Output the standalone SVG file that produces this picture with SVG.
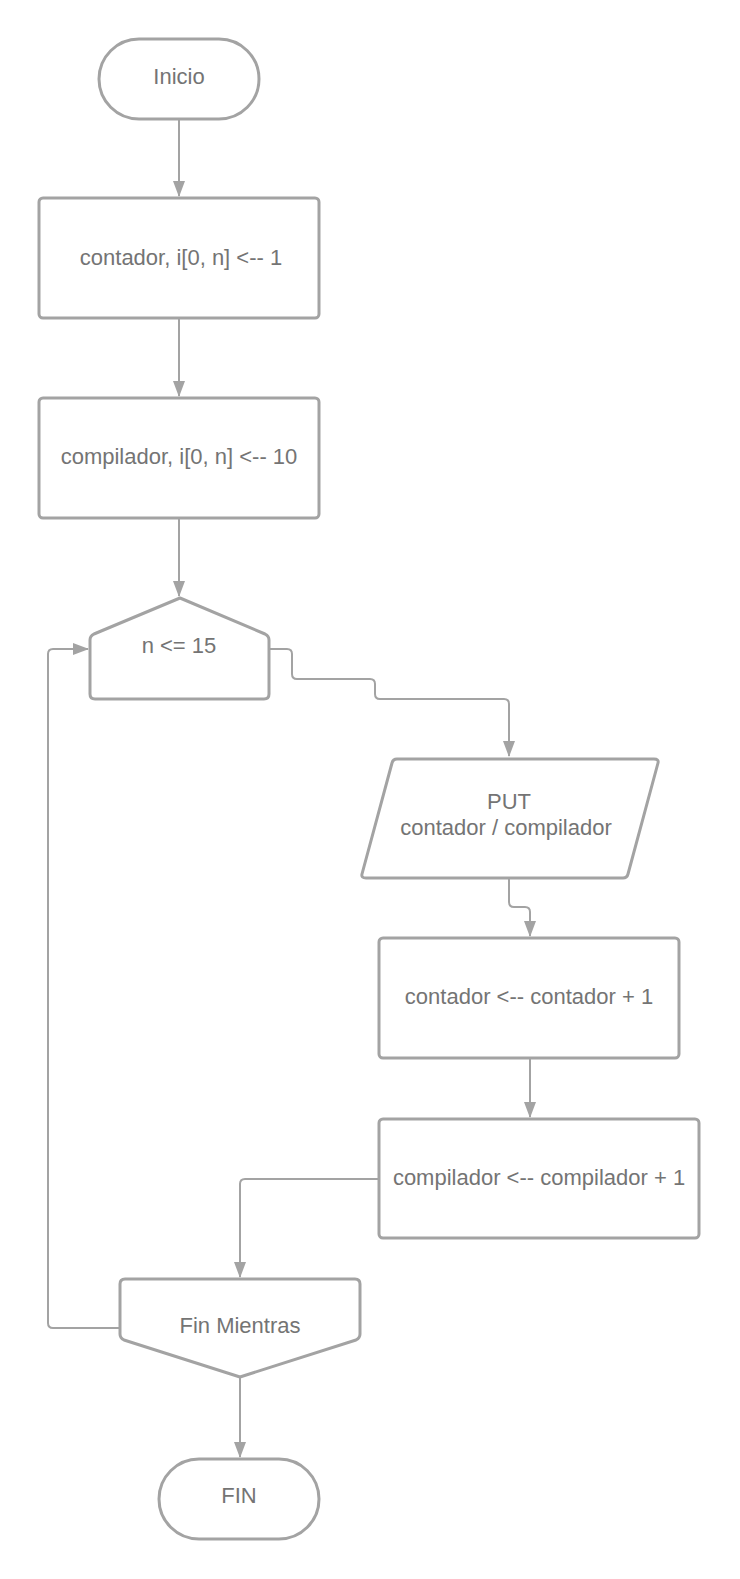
<svg xmlns="http://www.w3.org/2000/svg" width="740" height="1579" viewBox="0 0 740 1579">
  <style>
    .shape { fill: #ffffff; stroke: #a3a3a3; stroke-width: 3; stroke-linejoin: round; }
    .conn { fill: none; stroke: #a3a3a3; stroke-width: 2; }
    .label { font-family: "Liberation Sans", Arial, sans-serif; font-size: 22px; fill: #747474; text-anchor: middle; }
  </style>
  <defs>
    <marker id="arrow" viewBox="0 0 16 12" markerWidth="16" markerHeight="12" refX="15" refY="6" orient="auto" markerUnits="userSpaceOnUse">
      <path d="M0,0 L16,6 L0,12 Z" fill="#a3a3a3"/>
    </marker>
  </defs>
  <rect width="740" height="1579" fill="#ffffff"/>

  <g id="connectors">
    <path class="conn" d="M179 119 L179 196" marker-end="url(#arrow)"/>
    <path class="conn" d="M179 318 L179 396" marker-end="url(#arrow)"/>
    <path class="conn" d="M179 518 L179 596" marker-end="url(#arrow)"/>
    <path class="conn" d="M269 649 L287 649 Q292 649 292 654 L292 674 Q292 679 297 679 L370 679 Q375 679 375 684 L375 694 Q375 699 380 699 L504 699 Q509 699 509 704 L509 756" marker-end="url(#arrow)"/>
    <path class="conn" d="M509 878 L509 902 Q509 907 514 907 L525 907 Q530 907 530 912 L530 936" marker-end="url(#arrow)"/>
    <path class="conn" d="M530 1058 L530 1117" marker-end="url(#arrow)"/>
    <path class="conn" d="M379 1179 L245 1179 Q240 1179 240 1184 L240 1277" marker-end="url(#arrow)"/>
    <path class="conn" d="M240 1377 L240 1457" marker-end="url(#arrow)"/>
    <path class="conn" d="M120 1328 L53 1328 Q48 1328 48 1323 L48 654 Q48 649 53 649 L88 649" marker-end="url(#arrow)"/>
  </g>

  <g id="inicio">
    <rect class="shape" x="99" y="39" width="160" height="80" rx="40"/>
    <text class="label" x="179" y="84">Inicio</text>
  </g>

  <g id="init-contador">
    <rect class="shape" x="39" y="198" width="280" height="120" rx="4"/>
    <text class="label" x="181" y="265">contador, i[0, n] &lt;-- 1</text>
  </g>

  <g id="init-compilador">
    <rect class="shape" x="39" y="398" width="280" height="120" rx="4"/>
    <text class="label" x="179" y="464">compilador, i[0, n] &lt;-- 10</text>
  </g>

  <g id="mientras">
    <path class="shape" d="M90 640 Q90 636 94 634 L180 598 L265 634 Q269 636 269 640 L269 694 Q269 699 264 699 L95 699 Q90 699 90 694 Z"/>
    <text class="label" x="179" y="653">n &lt;= 15</text>
  </g>

  <g id="put">
    <path class="shape" d="M397 759 L654 759 Q659 759 658 763 L628 874 Q627 878 623 878 L366 878 Q361 878 362 874 L392 763 Q393 759 397 759 Z"/>
    <text class="label" x="509" y="809">PUT</text>
    <text class="label" x="506" y="835">contador / compilador</text>
  </g>

  <g id="inc-contador">
    <rect class="shape" x="379" y="938" width="300" height="120" rx="4"/>
    <text class="label" x="529" y="1004">contador &lt;-- contador + 1</text>
  </g>

  <g id="inc-compilador">
    <rect class="shape" x="379" y="1119" width="320" height="119" rx="4"/>
    <text class="label" x="539" y="1185">compilador &lt;-- compilador + 1</text>
  </g>

  <g id="fin-mientras">
    <path class="shape" d="M120 1284 Q120 1279 125 1279 L355 1279 Q360 1279 360 1284 L360 1334 Q360 1338 356 1340 L240 1377 L124 1340 Q120 1338 120 1334 Z"/>
    <text class="label" x="240" y="1333">Fin Mientras</text>
  </g>

  <g id="fin">
    <rect class="shape" x="159" y="1459" width="160" height="80" rx="40"/>
    <text class="label" x="239" y="1503">FIN</text>
  </g>
</svg>
